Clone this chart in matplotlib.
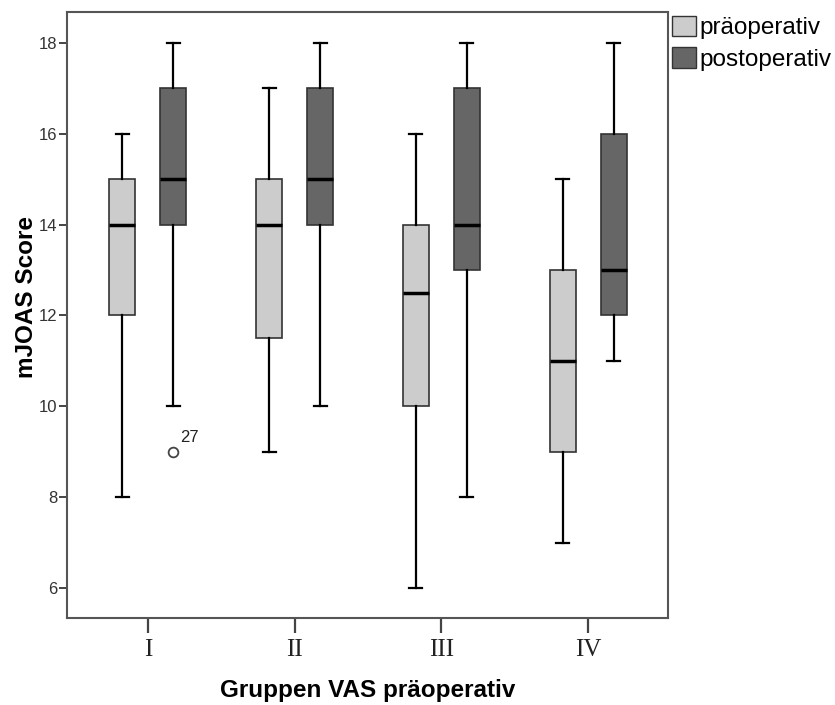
import matplotlib
matplotlib.use('Agg')
import matplotlib.pyplot as plt
from matplotlib.patches import Patch

groups = ['I', 'II', 'III', 'IV']

# five-number summaries per group: whisker low, Q1, median, Q3, whisker high
pre_low = [8, 9, 6, 7]
pre_q1 = [12, 11.5, 10, 9]
pre_med = [14, 14, 12.5, 11]
pre_q3 = [15, 15, 14, 13]
pre_high = [16, 17, 16, 15]

post_low = [10, 10, 8, 11]
post_q1 = [14, 14, 13, 12]
post_med = [15, 15, 14, 13]
post_q3 = [17, 17, 17, 16]
post_high = [18, 18, 18, 18]

# outliers: (group index, value, case label)
post_outliers = [(0, 9, '27')]

pre_color = '#cccccc'
post_color = '#666666'
edge = '#333333'


def make_stats(low, q1, med, q3, high, fliers):
    stats = []
    for i in range(len(low)):
        fl = [v for g, v, _ in fliers if g == i]
        stats.append({'whislo': low[i], 'q1': q1[i], 'med': med[i],
                      'q3': q3[i], 'whishi': high[i], 'fliers': fl})
    return stats


fig = plt.figure(figsize=(8.35, 7.05), dpi=100)
ax = fig.add_axes([0.0802, 0.1234, 0.7198, 0.8596])

xs = list(range(len(groups)))
offset = 0.174
width = 0.177

for stats, color, shift in [
    (make_stats(pre_low, pre_q1, pre_med, pre_q3, pre_high, []), pre_color, -offset),
    (make_stats(post_low, post_q1, post_med, post_q3, post_high, post_outliers), post_color, offset),
]:
    ax.bxp(stats, positions=[x + shift for x in xs], widths=width,
           patch_artist=True, showfliers=True,
           boxprops=dict(facecolor=color, edgecolor=edge, linewidth=1.2),
           medianprops=dict(color='black', linewidth=2.5),
           whiskerprops=dict(color='black', linewidth=1.6),
           capprops=dict(color='black', linewidth=1.6),
           capwidths=width * 0.5,
           flierprops=dict(marker='o', markerfacecolor='white',
                           markeredgecolor='#444444', markersize=7, markeredgewidth=1.3))

for g, v, lab in post_outliers:
    ax.annotate(lab, (g + offset, v), xytext=(5, 7), textcoords='offset points',
                fontsize=12, color='#222222', family='Liberation Sans')

ax.set_xlim(-0.551, 3.544)
ax.set_ylim(5.34, 18.68)
ax.set_xticks(xs)
ax.set_xticklabels(groups, family='Liberation Serif', fontsize=18, color='#222222')
ax.set_yticks([6, 8, 10, 12, 14, 16, 18])
ax.set_yticklabels(['6', '8', '10', '12', '14', '16', '18'],
                   family='Liberation Sans', fontsize=12, color='#333333')
ax.tick_params(axis='x', length=11, width=1.6, color='#444444', pad=4)
ax.tick_params(axis='y', length=6, width=1.4, color='#444444', pad=1)
for s in ax.spines.values():
    s.set_color('#555555')
    s.set_linewidth(1.5)

ax.set_xlabel('Gruppen VAS präoperativ', family='Liberation Sans', fontsize=17.5,
              fontweight='bold', labelpad=13)
ax.set_ylabel('mJOAS Score', family='Liberation Sans', fontsize=17.5,
              fontweight='bold')
ax.yaxis.set_label_coords(-0.048, 0.53)

handles = [Patch(facecolor=pre_color, edgecolor=edge, label='präoperativ'),
           Patch(facecolor=post_color, edgecolor=edge, label='postoperativ')]
fig.legend(handles=handles, loc='upper left', bbox_to_anchor=(0.805, 0.978),
           frameon=False, prop={'family': 'Liberation Sans', 'size': 17.5},
           handlelength=0.98, handleheight=0.92, handletextpad=0.15,
           labelspacing=0.34, borderaxespad=0, borderpad=0)

fig.savefig('out.png', dpi=100)
